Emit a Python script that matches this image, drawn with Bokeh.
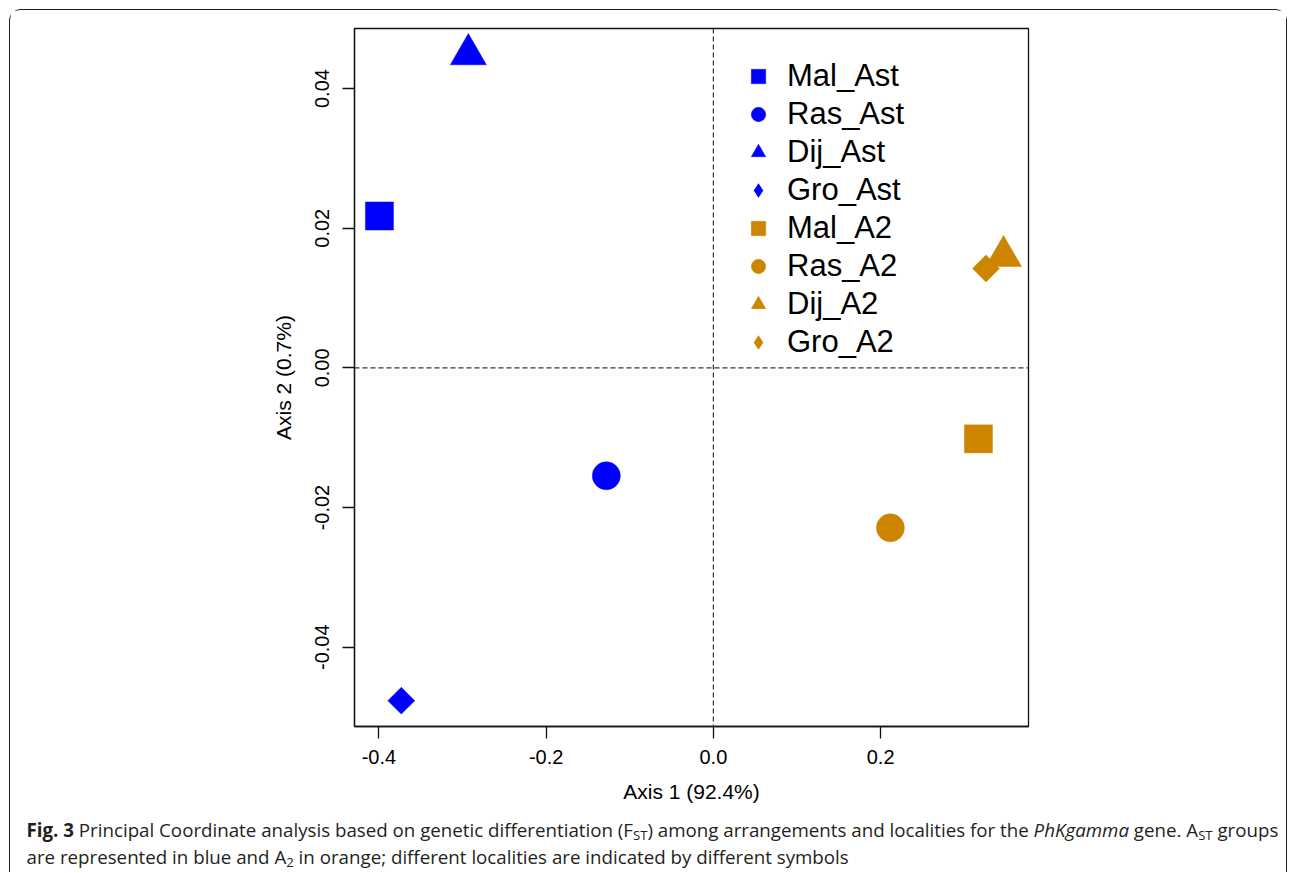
import struct, subprocess, glob, os
from bokeh.plotting import figure
from bokeh.layouts import column
from bokeh.models import (Range1d, FixedTicker, PrintfTickFormatter, Span, Legend,
                          LegendItem, Div)
from bokeh.embed import file_html
from bokeh.resources import INLINE

# ---------------- data ----------------
labels = ["Mal_Ast", "Ras_Ast", "Dij_Ast", "Gro_Ast", "Mal_A2", "Ras_A2", "Dij_A2", "Gro_A2"]
axis1 = [-0.3993, -0.128, -0.293, -0.3732, 0.317, 0.2117, 0.347, 0.326]
axis2 = [0.02175, -0.01545, 0.0449, -0.04765, -0.01016, -0.0229, 0.0160, 0.01424]
groups = ["Ast", "Ast", "Ast", "Ast", "A2", "A2", "A2", "A2"]
localities = ["Mal", "Ras", "Dij", "Gro", "Mal", "Ras", "Dij", "Gro"]
x_ticks = [-0.4, -0.2, 0.0, 0.2]
y_ticks = [-0.04, -0.02, 0.0, 0.02, 0.04]
x_label = "Axis 1 (92.4%)"
y_label = "Axis 2 (0.7%)"
caption_line1 = [("Fig. 3", "bold"),
                 (" Principal Coordinate analysis based on genetic differentiation (F", "normal"),
                 ("ST", "sub"), (") among arrangements and localities for the ", "normal"),
                 ("PhKgamma", "italic"), (" gene. A", "normal"), ("ST", "sub"),
                 (" groups", "normal")]
caption_line2 = [("are represented in blue and A", "normal"), ("2", "sub"),
                 (" in orange; different localities are indicated by different symbols", "normal")]

group_colors = {"Ast": "#0000FF", "A2": "#CD8500"}
# plot marker, size, angle (deg)
loc_markers = {"Mal": ("square", 28, 0), "Ras": ("circle", 28, 0),
               "Dij": ("triangle", 36, 0), "Gro": ("square", 19, 45)}

# ---------------- layout constants ----------------
OFF = 10.5                      # reference px -> canvas px
W = 1276
HP, HC = 806, 56                # plot canvas height, caption height
FL = round(355 - OFF)           # frame left
FT = round(28 - OFF)            # frame top
FR = round(1029 - OFF)          # frame right
FB = round(727 - OFF)           # frame bottom

def pad(vals):
    lo, hi = min(vals), max(vals)
    d = (hi - lo) * 0.04
    return lo - d, hi + d

xr = pad(axis1)
yr = pad(axis2)

p = figure(width=W, height=HP, x_range=Range1d(*xr), y_range=Range1d(*yr),
           output_backend="svg", toolbar_location=None,
           min_border_left=FL, min_border_right=W - FR,
           min_border_top=FT, min_border_bottom=HP - FB)
p.background_fill_color = "white"
p.border_fill_color = "white"
p.grid.visible = False
p.outline_line_color = "#111111"
p.outline_line_width = 1.3

AX_FONT = "Liberation Sans"
for ax in (p.xaxis[0], p.yaxis[0]):
    ax.axis_line_color = "#111111"
    ax.axis_line_width = 1.3
    ax.major_tick_line_color = "#111111"
    ax.major_tick_line_width = 1.3
    ax.major_tick_out = 12
    ax.major_tick_in = 0
    ax.minor_tick_line_color = None
    ax.major_label_text_font = AX_FONT
    ax.major_label_text_font_size = "20px"
    ax.major_label_text_color = "black"
    ax.axis_label_text_font = AX_FONT
    ax.axis_label_text_font_size = "21px"
    ax.axis_label_text_font_style = "normal"
    ax.axis_label_text_color = "black"

p.xaxis[0].ticker = FixedTicker(ticks=x_ticks)
p.xaxis[0].formatter = PrintfTickFormatter(format="%.1f")
p.xaxis[0].axis_label = x_label
p.xaxis[0].major_label_standoff = 11
p.xaxis[0].axis_label_standoff = 13

p.yaxis[0].ticker = FixedTicker(ticks=y_ticks)
p.yaxis[0].formatter = PrintfTickFormatter(format="%.2f")
p.yaxis[0].axis_label = y_label
p.yaxis[0].major_label_orientation = "vertical"
p.yaxis[0].major_label_standoff = 13
p.yaxis[0].axis_label_standoff = 18

p.add_layout(Span(location=0, dimension="height", line_dash="5 3",
                  line_color="#333333", line_width=1.2))
p.add_layout(Span(location=0, dimension="width", line_dash="5 3",
                  line_color="#333333", line_width=1.2))

items = []
for lab, x, y, g, loc in zip(labels, axis1, axis2, groups, localities):
    mk, sz, ang = loc_markers[loc]
    col = group_colors[g]
    r = p.scatter(x=[x], y=[y], marker=mk, size=sz, angle=ang, angle_units="deg",
                  fill_color=col, line_color=col, line_width=0.5)
    if ang:
        # same point as a plain diamond hidden inside the rotated square;
        # it gives the legend its diamond symbol
        r = p.scatter(x=[x], y=[y], marker="diamond", size=sz * 1.35,
                      fill_color=col, line_color=col, line_width=0)
    items.append(LegendItem(label=lab, renderers=[r]))

LEG_LEFT = 759 - OFF - 18 - 10
LEG_TOP = 77 - OFF - 18 - 10
LEG_H = 2 * 10 + 8 * 36 + 7 * 2
legend = Legend(items=items,
                location=(round(LEG_LEFT - FL), round(FB - (LEG_TOP + LEG_H))),
                orientation="vertical",
                glyph_width=36, glyph_height=36, label_height=36, spacing=2,
                padding=10, margin=0, label_standoff=11,
                label_text_font=AX_FONT, label_text_font_size="31px",
                label_text_baseline="middle", label_text_color="black",
                border_line_alpha=0, background_fill_alpha=0)
p.add_layout(legend)

# ---------------- caption font size (fit line 1 to the reference width) ----------------
def find_font(pattern, globs):
    try:
        out = subprocess.run(["fc-match", "-f", "%{file}", pattern], capture_output=True,
                             text=True, timeout=5).stdout.strip()
        if out and os.path.exists(out):
            return out
    except Exception:
        pass
    for gpat in globs:
        r = sorted(glob.glob(gpat, recursive=True))
        if r:
            return r[0]
    return ""

class Metrics:
    def __init__(self, path):
        self.ok = False
        try:
            d = open(path, "rb").read()
            base = struct.unpack(">I", d[12:16])[0] if d[:4] == b"ttcf" else 0
            n = struct.unpack(">H", d[base + 4:base + 6])[0]
            t = {}
            for i in range(n):
                tag, _, off, ln = struct.unpack(">4sIII", d[base + 12 + 16 * i: base + 28 + 16 * i])
                t[tag] = off
            self.d = d
            self.upem = self.H(t[b"head"] + 18)
            nhm = self.H(t[b"hhea"] + 34)
            hm = t[b"hmtx"]
            self.adv = [self.H(hm + 4 * i) for i in range(nhm)]
            c = t[b"cmap"]
            nsub = self.H(c + 2)
            self.sub = None
            for i in range(nsub):
                pid, eid, off = struct.unpack(">HHI", d[c + 4 + 8 * i: c + 12 + 8 * i])
                fmt = self.H(c + off)
                if fmt == 4 and self.sub is None:
                    self.sub = (4, c + off)
                if fmt == 12:
                    self.sub = (12, c + off)
            self.ok = self.sub is not None
        except Exception:
            self.ok = False

    def H(self, o):
        return struct.unpack(">H", self.d[o:o + 2])[0]

    def I(self, o):
        return struct.unpack(">I", self.d[o:o + 4])[0]

    def gid(self, code):
        fmt, o = self.sub
        if fmt == 12:
            ng = self.I(o + 12)
            for k in range(ng):
                s, e, g = struct.unpack(">III", self.d[o + 16 + 12 * k: o + 28 + 12 * k])
                if s <= code <= e:
                    return g + code - s
            return 0
        segx2 = self.H(o + 6)
        ends = o + 14
        starts = ends + segx2 + 2
        deltas = starts + segx2
        ros = deltas + segx2
        for i in range(segx2 // 2):
            if self.H(ends + 2 * i) >= code:
                st = self.H(starts + 2 * i)
                if st > code:
                    return 0
                delta = self.H(deltas + 2 * i)
                ro = self.H(ros + 2 * i)
                if ro == 0:
                    return (code + delta) & 0xFFFF
                g = self.H(ros + 2 * i + ro + 2 * (code - st))
                return (g + delta) & 0xFFFF if g else 0
        return 0

    def width(self, s, size):
        if not self.ok:
            return 0.52 * size * len(s)
        tot = 0
        for ch in s:
            g = self.gid(ord(ch))
            tot += self.adv[min(g, len(self.adv) - 1)]
        return tot * size / self.upem

m_reg = Metrics(find_font("Open Sans", ["/usr/share/fonts/**/OpenSans-Regular.ttf",
                                        "/usr/share/fonts/**/OpenSans*.ttf"]))
m_bold = Metrics(find_font("Open Sans:bold", ["/usr/share/fonts/**/OpenSans-Bold.ttf"]))
m_ital = Metrics(find_font("Open Sans:italic", ["/usr/share/fonts/**/OpenSans-Italic.ttf"]))
if not m_bold.ok:
    m_bold = m_reg
if not m_ital.ok:
    m_ital = m_reg

SUB = 0.7

def seg_w(text, style, fs):
    if style == "bold":
        return m_bold.width(text, fs)
    if style == "italic":
        return m_ital.width(text, fs)
    if style == "sub":
        return m_reg.width(text, fs * SUB)
    return m_reg.width(text, fs)

X0 = 27 - OFF
X1 = 1277 - OFF
w1 = sum(seg_w(t, s, 1.0) for t, s in caption_line1)
fs = (X1 - X0) / w1 if w1 > 0 else 17.0
fs = max(14.0, min(20.0, fs))

def to_html(line):
    out = []
    for text, style in line:
        if style == "bold":
            out.append(f"<b>{text}</b>")
        elif style == "italic":
            out.append(f"<i>{text}</i>")
        elif style == "sub":
            out.append(f'<span style="font-size:{int(SUB * 100)}%;vertical-align:-0.25em;'
                       f'line-height:0">{text}</span>')
        else:
            out.append(text)
    return "".join(out)

html = (f'<div style="font-family:\'Open Sans\',sans-serif;font-size:{fs:.2f}px;'
        f'line-height:27px;color:#231f20;white-space:nowrap;padding-left:{X0:.1f}px;'
        f'margin:0">{to_html(caption_line1)}<br>{to_html(caption_line2)}</div>')
caption = Div(text=html, width=W, height=HC, margin=0)

layout = column(p, caption, spacing=0, margin=(9, 0, 0, 9),
                styles={"border-top": "1.5px solid #1e1e1e",
                        "border-left": "1.5px solid #1e1e1e",
                        "border-right": "1.5px solid #1e1e1e",
                        "border-top-left-radius": "12px",
                        "border-top-right-radius": "12px"})

open("out.html", "w").write(file_html(layout, INLINE))
